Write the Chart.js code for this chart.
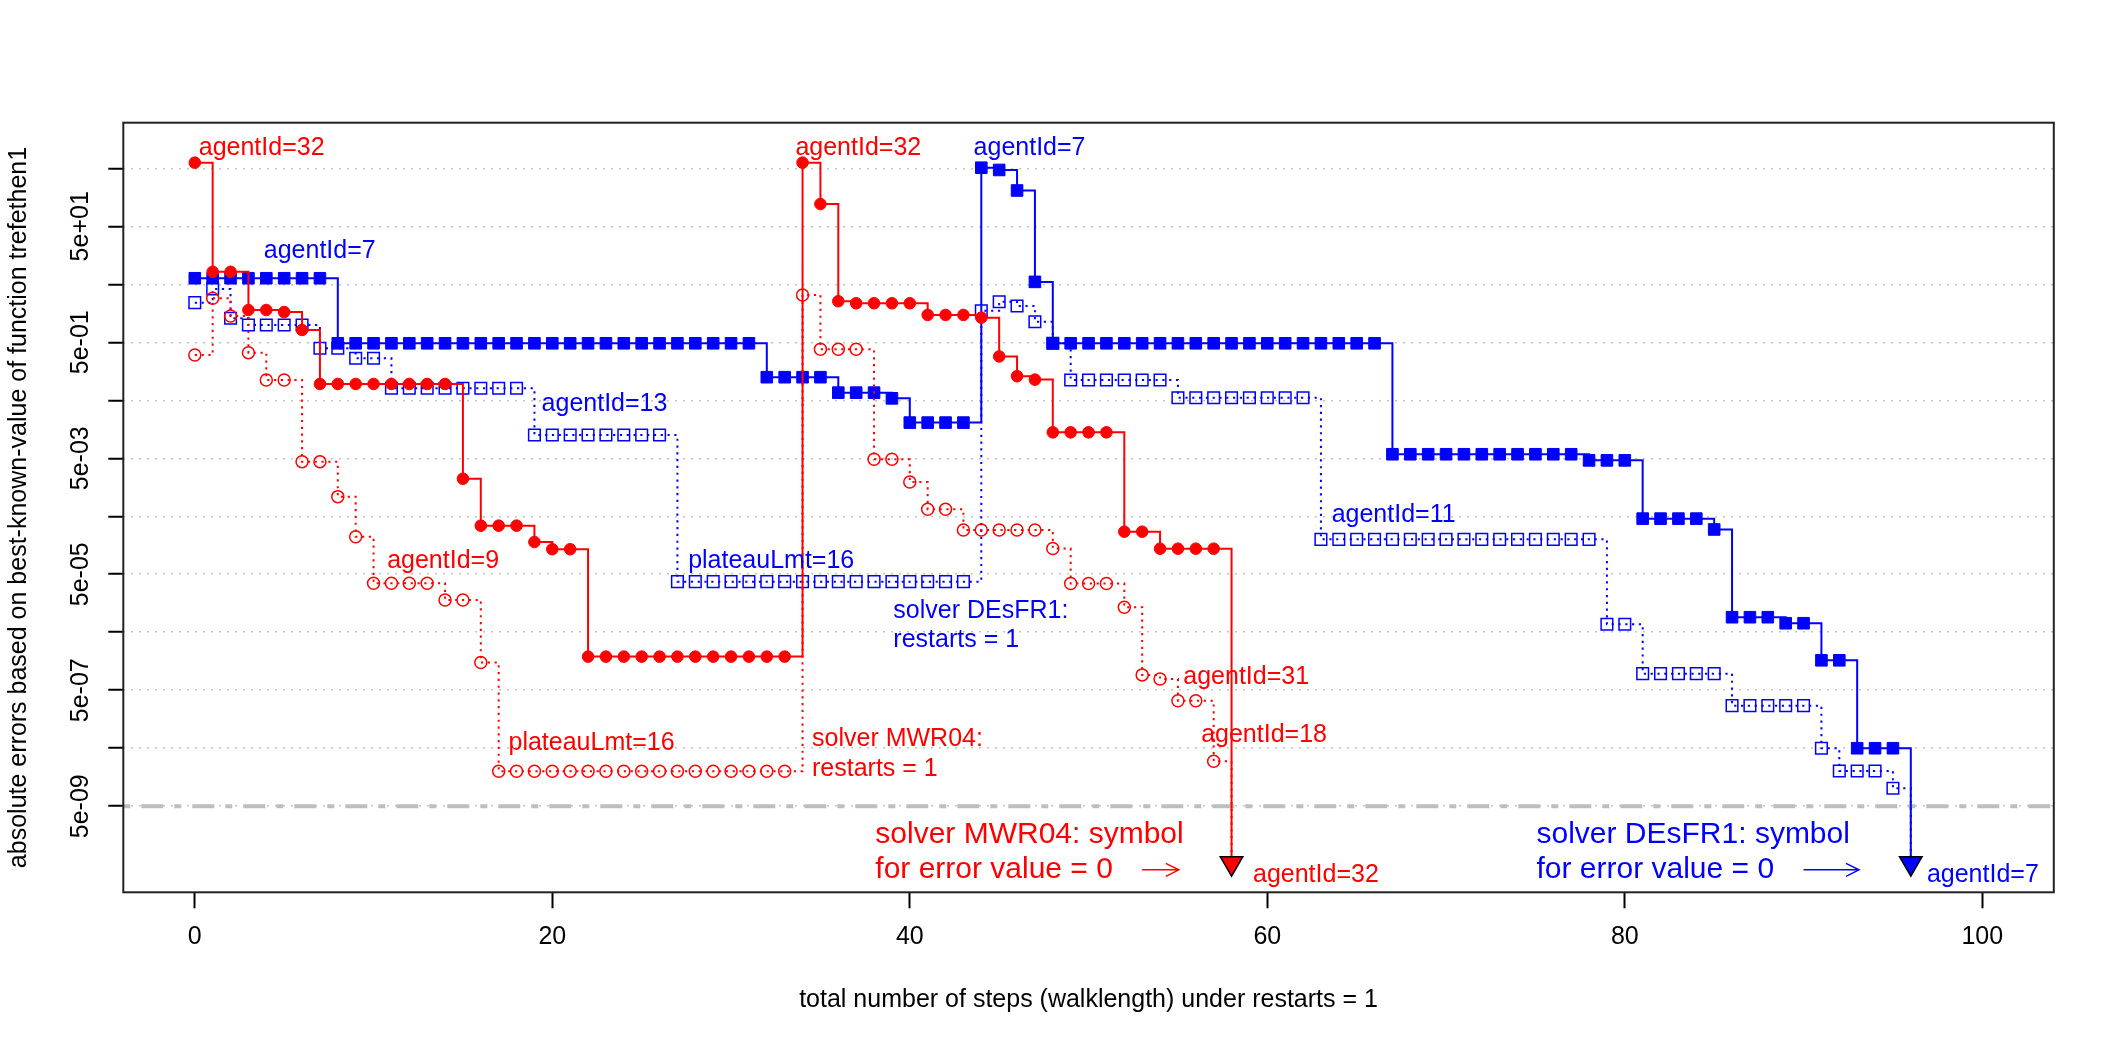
<!DOCTYPE html>
<html lang="en">
<head>
<meta charset="UTF-8">
<title>trefethen1 - absolute errors per step</title>
<script src="https://cdn.jsdelivr.net/npm/chart.js"></script>
<style>
    html, body {
        margin: 0;
        padding: 0;
        background: #ffffff;
    }
    canvas {
        display: block;
    }
</style>
</head>
<body>
<canvas id="errChart" width="2118" height="1046"></canvas>
<script>
// error value 0 is drawn at this level, below the 5e-09 line
const zeroLevel = 5.2e-10;
const thresholdLevel = 5e-9;

// solver MWR04, best agent (agentId=32), steps 0..58
const mwrBest = [
    625, 8.2, 8.2, 1.8, 1.8, 1.66, 0.815,
    0.0955, 0.0955, 0.0955, 0.0955, 0.0955, 0.0955, 0.0955, 0.0955,
    2.22e-3, 3.44e-4, 3.44e-4, 3.44e-4, 1.8e-4, 1.35e-4, 1.35e-4,
    1.9e-6, 1.9e-6, 1.9e-6, 1.9e-6, 1.9e-6, 1.9e-6,
    1.9e-6, 1.9e-6, 1.9e-6, 1.9e-6, 1.9e-6, 1.9e-6,
    625, 121, 2.55, 2.35, 2.35, 2.35, 2.35,
    1.48, 1.48, 1.48, 1.33, 0.285, 0.130, 0.1135,
    0.014, 0.014, 0.014, 0.014,
    2.71e-4, 2.71e-4, 1.38e-4, 1.38e-4, 1.38e-4, 1.38e-4,
    0
];

// solver MWR04, second trace (dotted, open circles), steps 0..58
const mwrSecond = [
    0.302, 2.87, 1.42, 0.331, 0.112, 0.112, 4.37e-3, 4.37e-3, 1.09e-3, 2.22e-4,
    3.5e-5, 3.5e-5, 3.5e-5, 3.5e-5, 1.8e-5, 1.8e-5, 1.5e-6,
    2.0e-8, 2.0e-8, 2.0e-8, 2.0e-8, 2.0e-8, 2.0e-8, 2.0e-8, 2.0e-8, 2.0e-8,
    2.0e-8, 2.0e-8, 2.0e-8, 2.0e-8, 2.0e-8, 2.0e-8, 2.0e-8, 2.0e-8,
    3.27, 0.379, 0.379, 0.379, 4.81e-3, 4.81e-3, 1.95e-3, 6.6e-4, 6.6e-4,
    2.9e-4, 2.9e-4, 2.9e-4, 2.9e-4, 2.9e-4, 1.39e-4,
    3.47e-5, 3.47e-5, 3.47e-5, 1.35e-5, 9.2e-7, 7.8e-7, 3.3e-7, 3.3e-7, 2.98e-8,
    0
];

// solver DEsFR1, best agent (agentId=7), steps 0..96
const desBest = [
    6.35, 6.35, 6.35, 6.35, 6.35, 6.35, 6.35, 6.35,
    0.48, 0.48, 0.48, 0.48, 0.48, 0.48, 0.48, 0.48, 0.48, 0.48, 0.48, 0.48,
    0.48, 0.48, 0.48, 0.48, 0.48, 0.48, 0.48, 0.48, 0.48, 0.48, 0.48, 0.48,
    0.125, 0.125, 0.125, 0.125, 0.0676, 0.0676, 0.0676, 0.054,
    0.0206, 0.0206, 0.0206, 0.0206,
    512, 468, 207, 5.5,
    0.48, 0.48, 0.48, 0.48, 0.48, 0.48, 0.48, 0.48, 0.48, 0.48,
    0.48, 0.48, 0.48, 0.48, 0.48, 0.48, 0.48, 0.48, 0.48,
    5.86e-3, 5.86e-3, 5.86e-3, 5.86e-3, 5.86e-3, 5.86e-3, 5.86e-3, 5.86e-3,
    5.86e-3, 5.86e-3, 5.86e-3,
    4.6e-3, 4.6e-3, 4.6e-3,
    4.55e-4, 4.55e-4, 4.55e-4, 4.55e-4, 2.96e-4,
    9.08e-6, 9.08e-6, 9.08e-6, 7.15e-6, 7.15e-6,
    1.64e-6, 1.64e-6, 5.0e-8, 5.0e-8, 5.0e-8,
    0
];

// solver DEsFR1, second trace (dotted, open squares), steps 0..96
const desSecond = [
    2.41, 4.15, 1.30, 0.99, 0.99, 0.99, 0.99, 0.394, 0.394, 0.265, 0.265,
    0.0805, 0.0805, 0.0805, 0.0805, 0.0805, 0.0805, 0.0805, 0.0805,
    0.0126, 0.0126, 0.0126, 0.0126, 0.0126, 0.0126, 0.0126, 0.0126,
    3.73e-5, 3.73e-5, 3.73e-5, 3.73e-5, 3.73e-5, 3.73e-5, 3.73e-5, 3.73e-5, 3.73e-5,
    3.73e-5, 3.73e-5, 3.73e-5, 3.73e-5, 3.73e-5, 3.73e-5, 3.73e-5, 3.73e-5,
    1.75, 2.5, 2.11, 1.13, 0.48,
    0.112, 0.112, 0.112, 0.112, 0.112, 0.112,
    0.0554, 0.0554, 0.0554, 0.0554, 0.0554, 0.0554, 0.0554, 0.0554,
    2.0e-4, 2.0e-4, 2.0e-4, 2.0e-4, 2.0e-4, 2.0e-4, 2.0e-4, 2.0e-4,
    2.0e-4, 2.0e-4, 2.0e-4, 2.0e-4, 2.0e-4, 2.0e-4, 2.0e-4, 2.0e-4,
    6.87e-6, 6.87e-6,
    9.66e-7, 9.66e-7, 9.66e-7, 9.66e-7, 9.66e-7,
    2.71e-7, 2.71e-7, 2.71e-7, 2.71e-7, 2.71e-7,
    5.0e-8, 2.03e-8, 2.03e-8, 2.03e-8, 1.02e-8,
    0
];

// axes
const xTicks = [0, 20, 40, 60, 80, 100];
const yTicks = [5e2, 5e1, 5e0, 5e-1, 5e-2, 5e-3, 5e-4, 5e-5, 5e-6, 5e-7, 5e-8, 5e-9];
const yLabelValues = [5e1, 5e-1, 5e-3, 5e-5, 5e-7, 5e-9];
const yLabelText = ['5e+01', '5e-01', '5e-03', '5e-05', '5e-07', '5e-09'];

// text notes, placed in data units (x = step, y = error)
const notes = [
    { text: 'agentId=32', x: 0.22, y: 847, color: 'red', size: 25 },
    { text: 'agentId=7', x: 3.86, y: 14.0, color: 'blue', size: 25 },
    { text: 'agentId=13', x: 19.4, y: 0.0327, color: 'blue', size: 25 },
    { text: 'agentId=9', x: 10.76, y: 6.3e-5, color: 'red', size: 25 },
    { text: 'plateauLmt=16', x: 17.55, y: 4.7e-8, color: 'red', size: 25 },
    { text: 'solver MWR04:', x: 34.53, y: 5.5e-8, color: 'red', size: 25 },
    { text: 'restarts = 1', x: 34.53, y: 1.66e-8, color: 'red', size: 25 },
    { text: 'agentId=32', x: 33.6, y: 847, color: 'red', size: 25 },
    { text: 'agentId=7', x: 43.57, y: 847, color: 'blue', size: 25 },
    { text: 'plateauLmt=16', x: 27.6, y: 6.3e-5, color: 'blue', size: 25 },
    { text: 'solver DEsFR1:', x: 39.08, y: 8.7e-6, color: 'blue', size: 25 },
    { text: 'restarts = 1', x: 39.08, y: 2.82e-6, color: 'blue', size: 25 },
    { text: 'agentId=11', x: 63.6, y: 3.94e-4, color: 'blue', size: 25 },
    { text: 'agentId=31', x: 55.3, y: 6.4e-7, color: 'red', size: 25 },
    { text: 'agentId=18', x: 56.3, y: 6.5e-8, color: 'red', size: 25 },
    { text: 'solver MWR04: symbol', x: 38.07, y: 1.18e-9, color: 'red', size: 30 },
    { text: 'for error value = 0', x: 38.07, y: 2.87e-10, color: 'red', size: 30 },
    { text: 'agentId=32', x: 59.2, y: 2.5e-10, color: 'red', size: 25 },
    { text: 'solver DEsFR1: symbol', x: 75.06, y: 1.18e-9, color: 'blue', size: 30 },
    { text: 'for error value = 0', x: 75.06, y: 2.87e-10, color: 'blue', size: 30 },
    { text: 'agentId=7', x: 96.9, y: 2.5e-10, color: 'blue', size: 25 }
];

const arrows = [
    { x0: 53.0, x1: 55.05, y: 4.0e-10, color: 'red' },
    { x0: 90.0, x1: 93.1, y: 4.0e-10, color: 'blue' }
];

const FONT = '"Liberation Sans", Arial, Helvetica, sans-serif';
Chart.defaults.font.family = FONT;

function toPoints(vals) {
    return vals.map((v, i) => ({ x: i, y: v === 0 ? zeroLevel : v }));
}

function isLast(vals) {
    return ctx => ctx.dataIndex === vals.length - 1;
}

const lastMwr = isLast(mwrBest);
const lastDes = isLast(desBest);
const lastMwr2 = isLast(mwrSecond);
const lastDes2 = isLast(desSecond);

// plot box, rotated y labels, notes and arrows
const overlay = {
    id: 'overlay',
    afterDraw(chart) {
        const { ctx, chartArea: a } = chart;
        const xs = chart.scales.x;
        const ys = chart.scales.y;
        ctx.save();

        ctx.fillStyle = '#000';
        ctx.font = '25px ' + FONT;
        ctx.textAlign = 'center';
        ctx.textBaseline = 'alphabetic';
        yLabelValues.forEach((v, i) => {
            ctx.save();
            ctx.translate(a.left - 35, ys.getPixelForValue(v));
            ctx.rotate(-Math.PI / 2);
            ctx.fillText(yLabelText[i], 0, 0);
            ctx.restore();
        });

        ctx.textAlign = 'left';
        notes.forEach(n => {
            ctx.fillStyle = n.color;
            ctx.font = n.size + 'px ' + FONT;
            ctx.fillText(n.text, xs.getPixelForValue(n.x), ys.getPixelForValue(n.y));
        });

        arrows.forEach(ar => {
            const x0 = xs.getPixelForValue(ar.x0);
            const x1 = xs.getPixelForValue(ar.x1);
            const yy = ys.getPixelForValue(ar.y);
            ctx.strokeStyle = ar.color;
            ctx.lineWidth = 1.5;
            ctx.beginPath();
            ctx.moveTo(x0, yy);
            ctx.lineTo(x1, yy);
            ctx.moveTo(x1 - 13, yy - 6.5);
            ctx.lineTo(x1, yy);
            ctx.lineTo(x1 - 13, yy + 6.5);
            ctx.stroke();
        });

        ctx.strokeStyle = '#222';
        ctx.lineWidth = 2;
        ctx.strokeRect(a.left, a.top, a.right - a.left, a.bottom - a.top);
        ctx.restore();
    }
};

new Chart(document.getElementById('errChart'), {
    type: 'line',
    data: {
        datasets: [
            {
                label: 'MWR04 agentId=32',
                data: toPoints(mwrBest),
                borderColor: '#ff0000',
                borderWidth: 2,
                stepped: true,
                pointStyle: ctx => lastMwr(ctx) ? 'triangle' : 'circle',
                pointRotation: ctx => lastMwr(ctx) ? 180 : 0,
                pointRadius: ctx => lastMwr(ctx) ? 13 : 5.8,
                pointBackgroundColor: '#ff0000',
                pointBorderColor: ctx => lastMwr(ctx) ? '#000' : '#ff0000',
                pointBorderWidth: ctx => lastMwr(ctx) ? 1.5 : 1,
                order: 1
            },
            {
                label: 'MWR04 second',
                data: toPoints(mwrSecond),
                borderColor: '#ff0000',
                borderWidth: 2,
                borderDash: [2.2, 4.6],
                stepped: true,
                pointStyle: 'circle',
                pointRadius: ctx => lastMwr2(ctx) ? 0 : 6,
                pointBackgroundColor: 'rgba(0,0,0,0)',
                pointBorderColor: '#ff0000',
                pointBorderWidth: 1.5,
                order: 2
            },
            {
                label: 'DEsFR1 agentId=7',
                data: toPoints(desBest),
                borderColor: '#0000ff',
                borderWidth: 2,
                stepped: true,
                pointStyle: ctx => lastDes(ctx) ? 'triangle' : 'rect',
                pointRotation: ctx => lastDes(ctx) ? 180 : 0,
                pointRadius: ctx => lastDes(ctx) ? 13 : 8.2,
                pointBackgroundColor: '#0000ff',
                pointBorderColor: ctx => lastDes(ctx) ? '#000' : '#0000ff',
                pointBorderWidth: ctx => lastDes(ctx) ? 1.5 : 1,
                order: 3
            },
            {
                label: 'DEsFR1 second',
                data: toPoints(desSecond),
                borderColor: '#0000ff',
                borderWidth: 2,
                borderDash: [2.2, 4.6],
                stepped: true,
                pointStyle: 'rect',
                pointRadius: ctx => lastDes2(ctx) ? 0 : 8.2,
                pointBackgroundColor: 'rgba(0,0,0,0)',
                pointBorderColor: '#0000ff',
                pointBorderWidth: 1.5,
                order: 4
            },
            {
                label: 'zero line',
                data: [{ x: -4, y: thresholdLevel }, { x: 104, y: thresholdLevel }],
                borderColor: '#bebebe',
                borderWidth: 4,
                borderDash: [7, 11, 22, 11],
                pointRadius: 0,
                order: 5
            }
        ]
    },
    options: {
        responsive: false,
        animation: false,
        devicePixelRatio: 1,
        events: [],
        layout: {
            padding: { left: 0, top: 122.7, right: 64.2, bottom: 0 }
        },
        plugins: {
            legend: { display: false },
            tooltip: { enabled: false }
        },
        scales: {
            x: {
                type: 'linear',
                min: -4,
                max: 104,
                afterBuildTicks: s => { s.ticks = xTicks.map(v => ({ value: v })); },
                afterFit: s => { s.height = 153.7; },
                grid: {
                    drawOnChartArea: false,
                    drawTicks: true,
                    tickLength: 16,
                    tickColor: '#000',
                    tickWidth: 2
                },
                border: { display: false },
                ticks: {
                    color: '#000',
                    font: { size: 25 },
                    padding: 14,
                    maxRotation: 0,
                    autoSkip: false
                },
                title: {
                    display: true,
                    text: 'total number of steps (walklength) under restarts = 1',
                    color: '#000',
                    font: { size: 25 },
                    padding: { top: 0, bottom: 31 }
                }
            },
            y: {
                type: 'logarithmic',
                min: 1.64e-10,
                max: 3055,
                afterBuildTicks: s => { s.ticks = yTicks.map(v => ({ value: v })); },
                afterFit: s => { s.width = 123.3; },
                grid: {
                    color: '#c4c4c4',
                    lineWidth: 1.5,
                    drawTicks: true,
                    tickLength: 15,
                    tickColor: '#000',
                    tickWidth: 2,
                    tickBorderDash: []
                },
                border: { display: false, dash: [2, 6] },
                ticks: { display: false },
                title: {
                    display: true,
                    text: 'absolute errors based on best-known-value of function trefethen1',
                    color: '#000',
                    font: { size: 25 },
                    padding: { top: 4.4, bottom: 0 }
                }
            }
        }
    },
    plugins: [overlay]
});
</script>
</body>
</html>
